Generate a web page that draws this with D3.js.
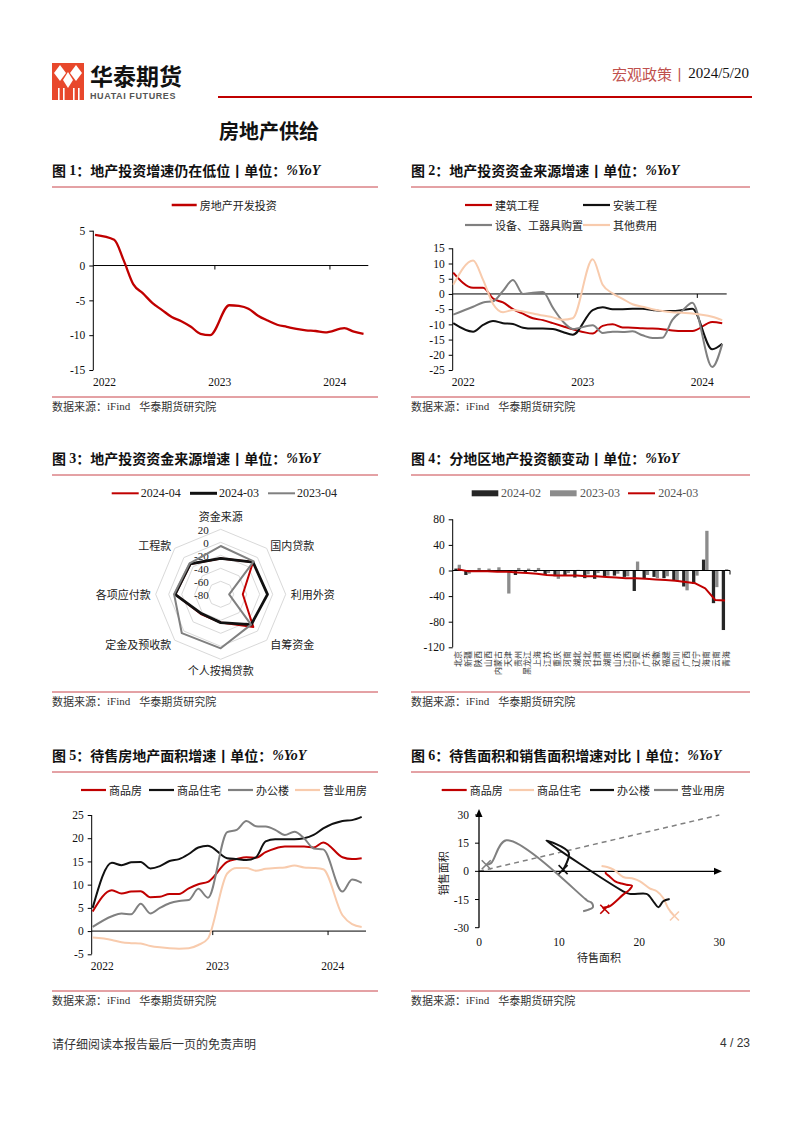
<!DOCTYPE html>
<html><head><meta charset="utf-8">
<script src="https://cdn.jsdelivr.net/npm/d3@7/dist/d3.min.js"></script>
<style>body{margin:0;background:#fff}svg{display:block}</style>
</head><body>
<svg id="c" width="802" height="1132"></svg>
<script>
// ---------------- DATA ----------------
const months1 = ["2021-12","2022-02","2022-03","2022-04","2022-05","2022-06","2022-07","2022-08","2022-09","2022-10","2022-11","2022-12","2023-02","2023-03","2023-04","2023-05","2023-06","2023-07","2023-08","2023-09","2023-10","2023-11","2023-12","2024-02","2024-03","2024-04"];
const yearLabels = ["2022","2023","2024"];
// Chart 1
const c1Series = ["房地产开发投资"];
const c1Invest = [4.4,3.7,0.7,-2.7,-4.0,-5.4,-6.4,-7.4,-8.0,-8.8,-9.8,-10.0,-5.7,-5.8,-6.2,-7.2,-7.9,-8.5,-8.8,-9.1,-9.3,-9.4,-9.6,-9.0,-9.5,-9.8];
const c1YTicks = [5,0,-5,-10,-15];
// Chart 2
const months2 = ["2021-12","2022-02","2022-03","2022-04","2022-05","2022-06","2022-07","2022-08","2022-09","2022-10","2022-11","2022-12","2023-02","2023-03","2023-04","2023-05","2023-06","2023-07","2023-08","2023-09","2023-10","2023-11","2023-12","2024-02","2024-03"];
const c2Names = ["建筑工程","安装工程","设备、工器具购置","其他费用"];
const c2Build = [7.0,2.0,2.0,-1.5,-2.8,-5.0,-6.5,-8.0,-8.6,-9.6,-10.6,-11.6,-13.0,-10.5,-10.0,-11.0,-11.1,-11.3,-11.4,-11.6,-12.0,-12.2,-12.2,-9.2,-9.6];
const c2Install = [-9.6,-12.4,-10.2,-8.9,-9.6,-9.9,-11.1,-11.4,-11.4,-11.5,-12.5,-13.4,-5.3,-4.4,-5.0,-5.0,-4.9,-4.9,-5.3,-5.6,-5.6,-5.3,-4.9,-18.2,-16.4];
const c2Equip = [-6.8,-4.2,-2.8,-2.4,1.0,4.6,0.0,0.4,0.6,-4.5,-9.0,-11.5,-10.3,-12.8,-12.4,-12.5,-12.3,-13.6,-14.5,-14.4,-8.5,-5.5,-2.9,-24.0,-16.5];
const c2Other = [3.0,11.0,4.6,-3.3,-6.0,-5.3,-5.8,-6.4,-7.1,-7.7,-8.5,-8.0,11.4,3.0,0.2,-1.6,-3.4,-4.2,-5.0,-5.6,-6.0,-6.2,-6.4,-7.5,-8.6];
const c2YTicks = [15,10,5,0,-5,-10,-15,-20,-25];
// Chart 3
const c3Cats = ["资金来源","国内贷款","利用外资","自筹资金","个人按揭贷款","定金及预收款","各项应付款","工程款"];
const c3Names = ["2024-04","2024-03","2023-04"];
const c3Apr24 = [-24.9,-9.6,-46,-9,-36.6,-37,-10,-14];
const c3Mar24 = [-24.6,-9.8,-8,-13.8,-36.4,-38,-9.8,-13.8];
const c3Apr23 = [-5.7,-8.2,-67,-14,3.1,4.6,-8.3,-12.5];
const c3Ticks = [20,0,-20,-40,-60,-80];
// Chart 4
const c4Prov = ["北京","新疆","陕西","山西","内蒙古","天津","贵州","黑龙江","上海","江苏","重庆","河南","湖北","河北","甘肃","湖南","山东","江西","宁夏","广东","安徽","福建","四川","广西","辽宁","海南","云南","青海"];
const c4Names = ["2024-02","2023-03","2024-03"];
const c4Feb24 = [3,-7,-2,0,-1,-2,-7,-3,-2,-6,-9,-8,-11,-12,-13,-9,-8,-10,-32,-12,-10,-12,-15,-25,-21,17,-51,-93];
const c4Mar23 = [9,-5,4,3,5,-36,4,3,4,-4,-13,-4,1,-6,-4,-8,-5,-9,14,-7,-12,-9,-17,-31,-8,62,-26,2];
const c4Mar24 = [2,-1,-1,-1,-2,-2,-3,-4,-5,-7,-8,-8,-8,-9,-9,-10,-11,-12,-12,-13,-14,-15,-16,-18,-20,-28,-46,-47];
const c4YTicks = [80,40,0,-40,-80,-120];
// Chart 5
const c5Names = ["商品房","商品住宅","办公楼","营业用房"];
const c5Comm = [4.2,8.8,8.1,8.5,8.6,7.3,7.4,8.0,8.0,9.2,10.1,10.6,14.9,15.5,15.9,15.8,17.0,17.8,18.2,18.2,18.2,18.0,19.1,15.9,15.5,15.7];
const c5Resi = [5.0,14.7,14.2,14.8,14.9,13.5,14.0,15.1,15.5,16.6,18.0,18.4,15.7,15.5,15.3,15.9,19.3,19.8,19.8,19.8,20.0,20.7,22.1,23.7,23.9,24.6];
const c5Office = [0.9,3.2,3.8,3.6,5.9,3.8,5.0,6.0,6.5,6.7,9.1,7.2,21.3,21.8,23.7,22.6,22.5,21.8,20.7,21.4,20.0,17.8,17.6,8.5,11.1,10.4];
const c5Biz = [-1.4,-1.9,-2.4,-2.6,-2.7,-3.2,-3.5,-3.7,-3.8,-3.7,-3.0,-1.6,12.4,13.6,13.6,13.0,13.4,13.6,13.7,14.1,13.7,13.6,13.3,3.4,1.5,0.9];
const c5YTicks = [25,20,15,10,5,0,-5];
// Chart 6  (x: 待售面积增速, y: 销售面积增速)
const c6Names = ["商品房","商品住宅","办公楼","营业用房"];
const c6CommX = [15.9,15.8,16.3,17.0,17.8,18.4,19.1,18.8,18.0,16.3,15.5,15.7];
const c6CommY = [-0.4,-0.9,-2.7,-5.3,-6.5,-7.1,-7.6,-9.7,-12.4,-18.6,-19.4,-20.2];
const c6ResiX = [15.3,16.0,16.8,18.0,19.3,20.1,21.3,22.2,23.0,23.6,24.4];
const c6ResiY = [2.9,2.3,0.9,-3.0,-3.9,-5.3,-9.0,-10.6,-14.2,-19.5,-23.8];
const c6OfficeX = [23.8,23.0,22.4,21.9,21.3,20.9,18.8,18.0,8.4,11.2,10.5];
const c6OfficeY = [-14.7,-15.9,-19.1,-16.8,-13.3,-12.0,-12.0,-10.6,16.3,10.0,0.9];
const c6BizX = [13.0,13.6,14.2,14.2,14.0,13.6,13.3,3.4,1.5,0.9];
const c6BizY = [-21.2,-20.5,-19.2,-17.7,-16.5,-15.8,-14.8,16.5,4.4,3.5];
const c6Ticks = [30,15,0,-15,-30];
const c6XTicks = [0,10,20,30];

// ---------------- STYLE ----------------
const SANS = '"Noto Sans CJK SC","Noto Sans",sans-serif';
const SERIF = '"Liberation Serif","Times New Roman",serif';
const RED = "#c00000", BLACK = "#111", GRAY = "#808080", PINK = "#f8cbad";
const svg = d3.select("#c");
svg.append("rect").attr("width",802).attr("height",1132).attr("fill","#fff");

function text(x,y,s,o={}){
  return svg.append("text").attr("x",x).attr("y",y).text(s)
    .attr("font-family",o.f||SANS).attr("font-size",o.s||11)
    .attr("fill",o.c||"#222").attr("font-weight",o.w||"normal")
    .attr("text-anchor",o.a||"start").attr("dominant-baseline","central");
}
function mIdx(s){const [y,m]=s.split("-").map(Number);return (y-2022)*12+(m-1);}

// ---------------- HEADER ----------------
const logo = svg.append("g");
logo.append("rect").attr("x",52).attr("y",63).attr("width",32).attr("height",37).attr("fill","#e8482c");
[[60,73],[76,73]].forEach(([cx,cy])=>logo.append("path").attr("d",`M${cx},${cy-8}L${cx+6},${cy}L${cx},${cy+8}L${cx-6},${cy}Z`).attr("fill","#fff"));
logo.append("path").attr("d","M68,72L73,80L68,88L63,80Z").attr("fill","#fff");
[58,63,73,78].forEach(x=>logo.append("rect").attr("x",x).attr("y",88).attr("width",1.6).attr("height",12).attr("fill","#fff"));
text(90,75,"华泰期货",{s:23,w:"bold",c:"#111"});
svg.append("text").attr("x",90).attr("y",96).text("HUATAI FUTURES").attr("font-family",'"Liberation Sans",Arial,sans-serif')
  .attr("font-size",9).attr("font-weight","bold").attr("fill","#555").attr("letter-spacing",0.6).attr("dominant-baseline","central");
text(612,73,"宏观政策丨",{s:15,c:"#c0504d"});
text(749,73,"2024/5/20",{s:15,f:SERIF,c:"#111",a:"end"});
svg.append("line").attr("x1",218).attr("x2",752).attr("y1",97).attr("y2",97).attr("stroke",RED).attr("stroke-width",2);
text(219,130,"房地产供给",{s:20,w:"bold",c:"#111"});
text(52,1043,"请仔细阅读本报告最后一页的免责声明",{s:12,c:"#333"});
text(750,1043,"4 / 23",{s:12,c:"#333",a:"end",f:'"Liberation Sans",Arial,sans-serif'});

// ---------------- PANEL FRAMES ----------------
function panel(x0,x1,ty,ly,by,num,t){
  const tt = svg.append("text").attr("x",x0).attr("y",ty).attr("dominant-baseline","central")
    .attr("font-size",14).attr("font-weight","bold").attr("fill","#111");
  tt.append("tspan").attr("font-family",SANS).text("图 ");
  tt.append("tspan").attr("font-family",SERIF).text(num);
  tt.append("tspan").attr("font-family",SANS).text("："+t+"丨单位：");
  tt.append("tspan").attr("font-family",SERIF).attr("font-style","italic").text("%YoY");
  svg.append("line").attr("x1",x0).attr("x2",x1).attr("y1",ly).attr("y2",ly).attr("stroke","#c9444a").attr("stroke-width",1);
  svg.append("line").attr("x1",x0).attr("x2",x1).attr("y1",by).attr("y2",by).attr("stroke","#c9444a").attr("stroke-width",1);
  const s = svg.append("text").attr("x",x0).attr("y",by+8.5).attr("dominant-baseline","central").attr("font-size",11).attr("fill","#333");
  s.append("tspan").attr("font-family",SANS).text("数据来源：");
  s.append("tspan").attr("font-family",SERIF).text("iFind");
  s.append("tspan").attr("font-family",SANS).attr("dx",9).text("华泰期货研究院");
}
panel(52,378,170,187,397,"1","地产投资增速仍在低位");
panel(411,750,170,187,397,"2","地产投资资金来源增速");
panel(52,378,458,475,692,"3","地产投资资金来源增速");
panel(411,750,458,475,692,"4","分地区地产投资额变动");
panel(52,378,755,772,991,"5","待售房地产面积增速");
panel(411,750,755,772,991,"6","待售面积和销售面积增速对比");

// ---------------- LINE CHART HELPER ----------------
function lineChart(o){
  const g = svg.append("g");
  const x = d3.scaleLinear().domain(o.xDomain).range([o.x0,o.x1]);
  const y = d3.scaleLinear().domain(o.yDomain).range([o.yB,o.yT]);
  const ay = g.append("g").attr("transform",`translate(${o.x0},0)`)
    .call(d3.axisLeft(y).tickValues(o.yTicks).tickSize(4).tickPadding(4).tickFormat(d=>String(d)));
  ay.select(".domain").attr("stroke","#000").attr("d",`M-0,${o.yT}V${o.yB}`);
  ay.selectAll(".tick line").attr("stroke","#000");
  ay.selectAll("text").attr("font-family",SERIF).attr("font-size",11.5).attr("fill","#111");
  const y0 = y(0);
  g.append("line").attr("x1",o.x0).attr("x2",o.x1).attr("y1",y0).attr("y2",y0).attr("stroke","#000");
  [1,2].forEach(k=>{const xt=x(12*k-0.5);g.append("line").attr("x1",xt).attr("x2",xt).attr("y1",y0).attr("y2",y0+4).attr("stroke","#000");});
  yearLabels.forEach((l,k)=>{ g.append("text").attr("x",x(12*k)).attr("y",o.yB+12).attr("text-anchor","middle")
    .attr("dominant-baseline","central").attr("font-family",SERIF).attr("font-size",11.5).attr("fill","#111").text(l);});
  o.series.forEach(s=>{
    const pts = s.v.map((v,i)=>[x(mIdx(o.months[i])),y(v)]);
    g.append("path").attr("d",d3.line().curve(d3.curveMonotoneX)(pts)).attr("fill","none")
      .attr("stroke",s.c).attr("stroke-width",s.w||2).attr("stroke-linejoin","round");
  });
  return {x,y};
}
function legendLine(x,y,color,label,w=2.2,len=26){
  svg.append("line").attr("x1",x).attr("x2",x+len).attr("y1",y).attr("y2",y).attr("stroke",color).attr("stroke-width",w);
  text(x+len+3,y,label,{s:11});
}

// Chart 1
lineChart({x0:93.3,x1:368.3,xDomain:[-1.18,27.5],yT:230.7,yB:370,yDomain:[-15,5],yTicks:c1YTicks,months:months1,
  series:[{v:c1Invest,c:RED,w:2.3}]});
legendLine(171.7,205,RED,c1Series[0],2.5,25);

// Chart 2
lineChart({x0:452.7,x1:726.7,xDomain:[-1.05,26.45],yT:248.3,yB:370,yDomain:[-25,15],yTicks:c2YTicks,months:months2,
  series:[{v:c2Build,c:RED},{v:c2Install,c:BLACK},{v:c2Equip,c:GRAY},{v:c2Other,c:PINK}]});
legendLine(465,205,RED,c2Names[0],2.2,27);
legendLine(583,205,BLACK,c2Names[1],2.2,27);
legendLine(465,225,GRAY,c2Names[2],2.2,27);
legendLine(583,225,PINK,c2Names[3],2.2,27);

// Chart 5
lineChart({x0:91.7,x1:366,xDomain:[-1.1,27.45],yT:815,yB:954.3,yDomain:[-5,25],yTicks:c5YTicks,months:months1,
  series:[{v:c5Comm,c:RED},{v:c5Resi,c:BLACK},{v:c5Office,c:GRAY},{v:c5Biz,c:PINK}]});
legendLine(81,790,RED,c5Names[0],2.2,25);
legendLine(149,790,BLACK,c5Names[1],2.2,25);
legendLine(228,790,GRAY,c5Names[2],2.2,25);
legendLine(295,790,PINK,c5Names[3],2.2,25);

// ---------------- CHART 3 RADAR ----------------
(function(){
  const cx=220.7, cy=594.3, R=65;
  const r = d3.scaleLinear().domain([-80,20]).range([0,R]);
  const n = c3Cats.length, ang = i=>i*2*Math.PI/n;
  const g = svg.append("g").attr("transform",`translate(${cx},${cy})`);
  const rl = d3.lineRadial().curve(d3.curveLinearClosed);
  c3Ticks.filter(t=>t>-80).forEach(t=>{
    g.append("path").attr("d",rl(c3Cats.map((c,i)=>[ang(i),r(t)]))).attr("fill","none").attr("stroke","#d9d9d9").attr("stroke-width",1);
  });
  c3Ticks.forEach(t=>{ g.append("text").attr("x",-12).attr("y",-r(t)+0.5).attr("text-anchor","end").attr("dominant-baseline","central")
    .attr("font-family",SERIF).attr("font-size",11).attr("fill","#222").text(String(t)); });
  const ser = [{v:c3Apr24,c:RED,w:2},{v:c3Mar24,c:BLACK,w:2.8},{v:c3Apr23,c:GRAY,w:2}];
  ser.forEach(s=>g.append("path").attr("d",rl(s.v.map((v,i)=>[ang(i),r(v)]))).attr("fill","none")
    .attr("stroke",s.c).attr("stroke-width",s.w).attr("stroke-linejoin","round"));
  c3Cats.forEach((c,i)=>{
    const a=ang(i), sx=Math.sin(a), cy2=-Math.cos(a);
    let anchor = Math.abs(sx)<0.1?"middle":(sx>0?"start":"end");
    const rr = Math.abs(sx)<0.1?(cy2<0?78:75.5):70;
    g.append("text").attr("x",rr*sx).attr("y",rr*cy2).attr("text-anchor",anchor).attr("dominant-baseline","central")
      .attr("font-family",SANS).attr("font-size",11).attr("fill","#222").text(c);
  });
  // legend
  const lx=[111.7,190,268], lw=[2,3,2], lc=[RED,BLACK,GRAY];
  c3Names.forEach((nm,i)=>{
    svg.append("line").attr("x1",lx[i]).attr("x2",lx[i]+27).attr("y1",493.3).attr("y2",493.3).attr("stroke",lc[i]).attr("stroke-width",lw[i]);
    text(lx[i]+29,493.3,nm,{f:SERIF,s:12});
  });
})();

// ---------------- CHART 4 BARS ----------------
(function(){
  const x = d3.scaleBand().domain(c4Prov).range([452.7,730]).padding(0);
  const y = d3.scaleLinear().domain([-120,80]).range([647.3,519.3]);
  const g = svg.append("g");
  const ay = g.append("g").attr("transform","translate(452.7,0)")
    .call(d3.axisLeft(y).tickValues(c4YTicks).tickSize(4).tickPadding(4).tickFormat(d=>String(d)));
  ay.select(".domain").attr("stroke","#000").attr("d","M0,519.3V647.3");
  ay.selectAll(".tick line").attr("stroke","#000");
  ay.selectAll("text").attr("font-family",SERIF).attr("font-size",11.5).attr("fill","#111");
  const bw = 3.3;
  g.selectAll(".b1").data(c4Feb24).enter().append("rect")
    .attr("x",(d,i)=>x(c4Prov[i])+x.bandwidth()/2-bw).attr("width",bw)
    .attr("y",d=>y(Math.max(0,d))).attr("height",d=>Math.abs(y(d)-y(0))).attr("fill","#262626");
  g.selectAll(".b2").data(c4Mar23).enter().append("rect")
    .attr("x",(d,i)=>x(c4Prov[i])+x.bandwidth()/2).attr("width",bw)
    .attr("y",d=>y(Math.max(0,d))).attr("height",d=>Math.abs(y(d)-y(0))).attr("fill","#8c8c8c");
  g.append("line").attr("x1",452.7).attr("x2",730).attr("y1",y(0)).attr("y2",y(0)).attr("stroke","#000");
  g.append("line").attr("x1",730).attr("x2",730).attr("y1",y(0)).attr("y2",y(0)+4).attr("stroke","#000");
  g.append("path").attr("d",d3.line()(c4Mar24.map((v,i)=>[x(c4Prov[i])+x.bandwidth()/2,y(v)])))
    .attr("fill","none").attr("stroke",RED).attr("stroke-width",2).attr("stroke-linejoin","round");
  c4Prov.forEach(p=>{
    const px = x(p)+x.bandwidth()/2;
    g.append("text").attr("transform",`translate(${px},651) rotate(-90)`).attr("text-anchor","end")
      .attr("dominant-baseline","central").attr("font-family",SANS).attr("font-size",8).attr("fill","#333").text(p);
  });
  // legend
  svg.append("rect").attr("x",471.7).attr("y",490.3).attr("width",26.6).attr("height",6).attr("fill","#262626");
  text(501,493.3,c4Names[0],{f:SERIF,s:12,c:"#555"});
  svg.append("rect").attr("x",550).attr("y",490.3).attr("width",26.6).attr("height",6).attr("fill","#8c8c8c");
  text(580,493.3,c4Names[1],{f:SERIF,s:12,c:"#555"});
  svg.append("line").attr("x1",628).attr("x2",655).attr("y1",493.3).attr("y2",493.3).attr("stroke",RED).attr("stroke-width",2);
  text(658.3,493.3,c4Names[2],{f:SERIF,s:12,c:"#555"});
})();

// ---------------- CHART 6 SCATTER PATHS ----------------
(function(){
  const x = d3.scaleLinear().domain([0,30]).range([479,719.3]);
  const y = d3.scaleLinear().domain([-30,30]).range([927.7,815]);
  const g = svg.append("g");
  g.append("line").attr("x1",x(0)).attr("y1",y(0)).attr("x2",x(30)).attr("y2",y(30))
    .attr("stroke","#808080").attr("stroke-width",1.5).attr("stroke-dasharray","5,4");
  // axes
  g.append("line").attr("x1",479).attr("x2",479).attr("y1",927.7).attr("y2",815).attr("stroke","#000").attr("stroke-width",1.3);
  g.append("path").attr("d","M479,809L475.5,817L482.5,817Z").attr("fill","#000");
  g.append("line").attr("x1",479).attr("x2",716).attr("y1",y(0)).attr("y2",y(0)).attr("stroke","#000").attr("stroke-width",1.3);
  g.append("path").attr("d",`M722,${y(0)}L714,${y(0)-3.5}L714,${y(0)+3.5}Z`).attr("fill","#000");
  c6Ticks.forEach(t=>{
    g.append("line").attr("x1",475).attr("x2",479).attr("y1",y(t)).attr("y2",y(t)).attr("stroke","#000");
    text(469,y(t),String(t),{f:SERIF,s:11.5,a:"end",c:"#111"});
  });
  c6XTicks.forEach(t=>text(x(t),941.7,String(t),{f:SERIF,s:11.5,a:"middle",c:"#111"}));
  text(599,956.7,"待售面积",{s:11,a:"middle"});
  svg.append("text").attr("transform","translate(443.3,873.3) rotate(-90)").attr("text-anchor","middle").attr("dominant-baseline","central")
    .attr("font-family",SANS).attr("font-size",11).attr("fill","#222").text("销售面积");
  const ser = [
    {xs:c6BizX,ys:c6BizY,c:GRAY},
    {xs:c6ResiX,ys:c6ResiY,c:PINK},
    {xs:c6OfficeX,ys:c6OfficeY,c:BLACK},
    {xs:c6CommX,ys:c6CommY,c:RED}
  ];
  ser.forEach(s=>{
    const pts = s.xs.map((v,i)=>[x(v),y(s.ys[i])]);
    g.append("path").attr("d",d3.line().curve(d3.curveCatmullRom.alpha(0.5))(pts)).attr("fill","none")
      .attr("stroke",s.c).attr("stroke-width",2).attr("stroke-linejoin","round");
    const [px,py]=pts[pts.length-1], k=4.5;
    g.append("path").attr("d",`M${px-k},${py-k}L${px+k},${py+k}M${px-k},${py+k}L${px+k},${py-k}`)
      .attr("stroke",s.c).attr("stroke-width",1.6);
  });
  legendLine(441.7,790,RED,c6Names[0],2.2,25);
  legendLine(509,790,PINK,c6Names[1],2.2,25);
  legendLine(590,790,BLACK,c6Names[2],2.2,24);
  legendLine(654,790,GRAY,c6Names[3],2.2,24);
})();
</script>
</body></html>
